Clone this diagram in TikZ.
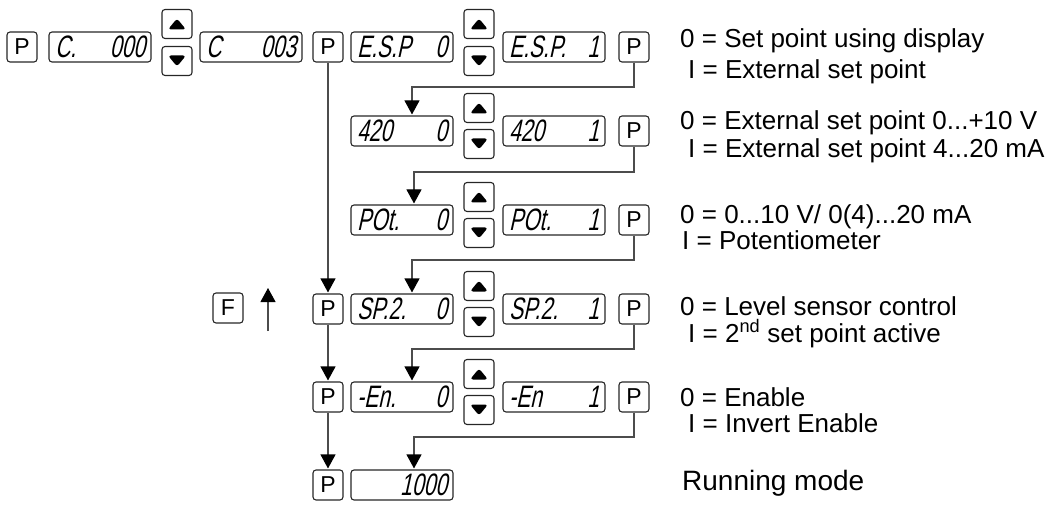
\documentclass[tikz,border=0pt]{standalone}
\usepackage{fontspec}
\setmainfont{Liberation Sans}
\newfontfamily\segfont{Liberation Sans}[FakeSlant=0.22,FakeStretch=0.68]
\usetikzlibrary{arrows.meta}
\newcommand{\segtxt}[2]{\makebox[90pt]{#1\hfill #2}}
\tikzset{
  box/.style={draw=black!85, line width=1.1pt, rounded corners=3pt, inner sep=0pt},
  key/.style={box, minimum width=30pt, minimum height=30pt, font=\fontsize{23}{23}\selectfont},
  disp/.style={box, minimum width=102pt, minimum height=30pt, font=\segfont\fontsize{31}{31}\selectfont},
  btn/.style={box, minimum width=30pt, minimum height=29pt},
  upbtn/.style={btn, path picture={\fill[black] ([yshift=5.5pt]path picture bounding box.center) -- ++(-9pt,-11pt) -- ++(18pt,0pt) -- cycle;}},
  dnbtn/.style={btn, path picture={\fill[black] ([yshift=-5.5pt]path picture bounding box.center) -- ++(-9pt,11pt) -- ++(18pt,0pt) -- cycle;}},
  conn/.style={draw=black!70, line width=1.1pt},
  arr/.style={conn, -{Triangle[width=15pt,length=14pt,color=black]}, shorten >=1pt},
  lbl/.style={anchor=base west, inner sep=0pt, font=\fontsize{26}{26}\selectfont},
  lblbig/.style={anchor=base west, inner sep=0pt, font=\fontsize{28}{28}\selectfont}
}
\begin{document}
\begin{tikzpicture}[x=1pt,y=-1pt]
\useasboundingbox (0,0) rectangle (1055,505);
% Row 1
\node[key]   (pa)  at (22,47)  {P};
\node[disp]  (da)  at (100,47) {\segtxt{C.}{000}};
\node[upbtn] (ua)  at (177,24) {};
\node[dnbtn] (na)  at (177,61) {};
\node[disp]  (db)  at (251,47) {\segtxt{C}{003}};
\node[key]   (pb)  at (328,47) {P};
\node[disp]  (d1l) at (402,47) {\segtxt{E.S.P}{0}};
\node[upbtn] (u1)  at (479,24) {};
\node[dnbtn] (n1)  at (479,61) {};
\node[disp]  (d1r) at (554,47) {\segtxt{E.S.P.}{1}};
\node[key]   (p1r) at (634,47) {P};
% Row 2
\node[disp]  (d2l) at (402,131) {\segtxt{420}{0}};
\node[upbtn] (u2)  at (479,108) {};
\node[dnbtn] (n2)  at (479,144) {};
\node[disp]  (d2r) at (554,131) {\segtxt{420}{1}};
\node[key]   (p2r) at (634,131) {P};
% Row 3
\node[disp]  (d3l) at (402,220) {\segtxt{POt.}{0}};
\node[upbtn] (u3)  at (479,197) {};
\node[dnbtn] (n3)  at (479,233) {};
\node[disp]  (d3r) at (554,220) {\segtxt{POt.}{1}};
\node[key]   (p3r) at (634,220) {P};
% Row 4
\node[key]   (fk)  at (228,308) {F};
\coordinate (fa0) at (268,331);
\coordinate (fa1) at (268,287);
\node[key]   (p4l) at (328,309) {P};
\node[disp]  (d4l) at (402,309) {\segtxt{SP.2.}{0}};
\node[upbtn] (u4)  at (479,286) {};
\node[dnbtn] (n4)  at (479,322) {};
\node[disp]  (d4r) at (554,309) {\segtxt{SP.2.}{1}};
\node[key]   (p4r) at (634,309) {P};
% Row 5
\node[key]   (p5l) at (328,397) {P};
\node[disp]  (d5l) at (402,397) {\segtxt{-En.}{0}};
\node[upbtn] (u5)  at (479,374) {};
\node[dnbtn] (n5)  at (479,410) {};
\node[disp]  (d5r) at (554,397) {\segtxt{-En}{1}};
\node[key]   (p5r) at (634,397) {P};
% Row 6
\node[key]   (p6l) at (328,485) {P};
\node[disp]  (d6l) at (402,485) {\segtxt{}{1000}};
% bends
\coordinate (b12) at (412,87);
\coordinate (b23) at (414,172);
\coordinate (b34) at (412,260);
\coordinate (b45) at (412,349);
\coordinate (b56) at (414,437);
% connectors
\draw[arr] (p1r.south) |- (b12) -- (b12 |- d2l.north);
\draw[arr] (p2r.south) |- (b23) -- (b23 |- d3l.north);
\draw[arr] (p3r.south) |- (b34) -- (b34 |- d4l.north);
\draw[arr] (p4r.south) |- (b45) -- (b45 |- d5l.north);
\draw[arr] (p5r.south) |- (b56) -- (b56 |- d6l.north);
\draw[arr] (pb.south) -- (p4l.north);
\draw[arr] (p4l.south) -- (p5l.north);
\draw[arr] (p5l.south) -- (p6l.north);
\draw[arr] (fa0) -- (fa1);
% labels
\node[lbl] (t1a) at (680,48)  {0 = Set point using display};
\node[lbl] (t1b) at (688,79)  {I = External set point};
\node[lbl] (t2a) at (680,130) {0 = External set point 0...+10 V};
\node[lbl] (t2b) at (688,158) {I = External set point 4...20 mA};
\node[lbl] (t3a) at (680,224) {0 = 0...10 V/ 0(4)...20 mA};
\node[lbl] (t3b) at (682,250) {I = Potentiometer};
\node[lbl] (t4a) at (680,315) {0 = Level sensor control};
\node[lbl] (t4b) at (688,342) {I = 2\textsuperscript{nd} set point active};
\node[lbl] (t5a) at (680,406) {0 = Enable};
\node[lbl] (t5b) at (688,432) {I = Invert Enable};
\node[lblbig] (t6) at (682,490) {Running mode};
\end{tikzpicture}
\end{document}
